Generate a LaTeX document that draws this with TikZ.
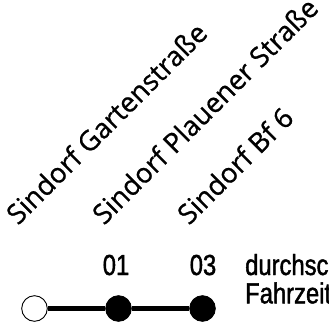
\documentclass[tikz,border=0pt]{standalone}
\usepackage{fontspec}
\setmainfont{Open Sans}[FakeBold=0.8]
\newfontfamily\stationfont[FakeBold=0.8]{Open Sans}
\newfontfamily\condfont[FakeStretch=0.82,FakeBold=1.5]{Liberation Sans}
\begin{document}
\begin{tikzpicture}[x=1pt,y=-1pt,
  stationlabel/.style={anchor=base west,rotate=45,inner sep=0pt,font=\stationfont\fontsize{27.5}{30}\selectfont},
  stop/.style={circle,minimum size=25.6pt,inner sep=0pt,draw=black,line width=0.9pt},
  firststop/.style={stop,fill=white},
  otherstop/.style={stop,fill=black},
  link/.style={line width=5.5pt,black},
  numlabel/.style={anchor=base,inner sep=0pt,font=\condfont\fontsize{29}{31}\selectfont},
  notelabel/.style={anchor=base west,inner sep=0pt,font=\condfont\fontsize{29}{31}\selectfont}]
\useasboundingbox (0,0) rectangle (329,332);
\node[firststop] (s1) at (34.5,308.5) {};
\node[otherstop] (s2) at (118.5,308.5) {};
\node[otherstop] (s3) at (202.5,308.5) {};
\draw[link] (s1) -- (s2);
\draw[link] (s2) -- (s3);
\node[stationlabel] (l1) at (18,226) {Sindorf Gartenstraße};
\node[stationlabel] (l2) at (104,226) {Sindorf Plauener Straße};
\node[stationlabel] (l3) at (189,226) {Sindorf Bf 6};
\node[numlabel] (n2) at (116,275) {01};
\node[numlabel] (n3) at (203,275) {03};
\node[notelabel] (t1) at (245,275) {durchsc};
\node[notelabel] (t2) at (245,303.3) {Fahrzeit};
\end{tikzpicture}
\end{document}
